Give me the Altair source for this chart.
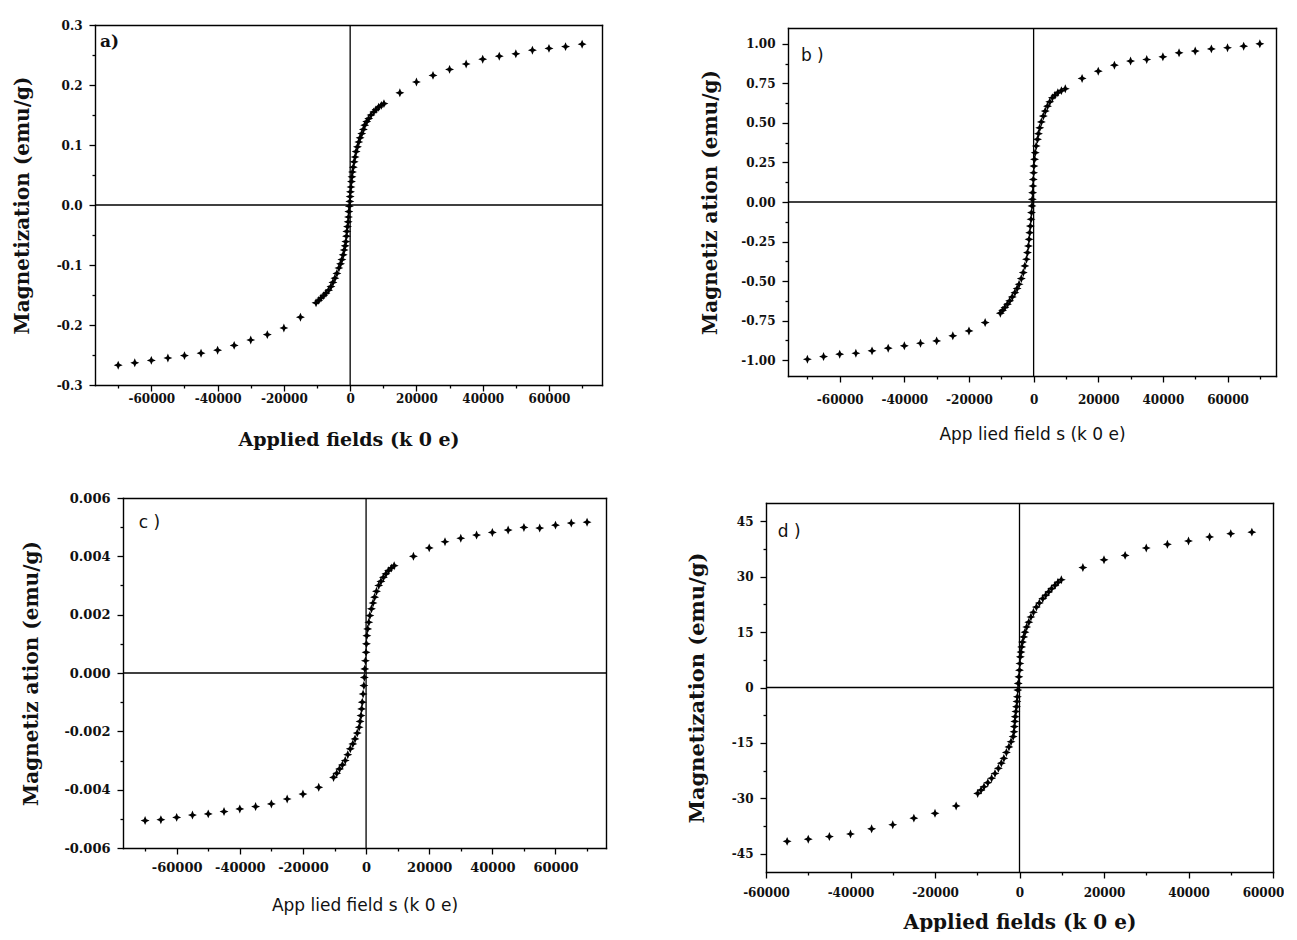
import altair as alt
import pandas as pd

STAR = "M0,-1 L0.3,-0.3 L1,0 L0.3,0.3 L0,1 L-0.3,0.3 L-1,0 L-0.3,-0.3 Z"

# ---------------- panel a ----------------
a_field = [-70000, -65000, -60000, -55000, -50000, -45000, -40000, -35000, -30000, -25000, -20000, -15000,
           -10300, -9500, -8800, -8000, -7300, -6500, -5800, -5200, -4600, -4000,
           -3400, -2900, -2500, -2100, -1800, -1500, -1300, -1100, -1000, -800,
           -600, -500, -400, -250, -100, 0, 100, 250, 400, 550,
           700, 950, 1200, 1500, 1800, 2200, 2600, 3000, 3500, 4000,
           4400, 5000, 5600, 6300, 7100, 7800, 8600, 9400, 10200,
           15000, 20000, 25000, 30000, 35000, 40000, 45000, 50000, 55000, 60000, 65000, 70000]
a_mag = [-0.267, -0.263, -0.259, -0.255, -0.251, -0.247, -0.242, -0.234, -0.225, -0.216, -0.205, -0.187,
         -0.163, -0.159, -0.155, -0.151, -0.147, -0.142, -0.136, -0.129, -0.122, -0.114,
         -0.105, -0.098, -0.091, -0.083, -0.075, -0.068, -0.061, -0.052, -0.044, -0.036,
         -0.028, -0.020, -0.011, -0.002, 0.006, 0.014, 0.022, 0.030, 0.039, 0.047,
         0.055, 0.063, 0.072, 0.080, 0.089, 0.097, 0.105, 0.112, 0.119, 0.126,
         0.133, 0.139, 0.144, 0.150, 0.155, 0.159, 0.163, 0.166, 0.169,
         0.187, 0.205, 0.216, 0.226, 0.235, 0.243, 0.248, 0.252, 0.258, 0.261, 0.264, 0.268]

# ---------------- panel b ----------------
b_field = [-70000, -65000, -60000, -55000, -50000, -45000, -40000, -35000, -30000, -25000, -20000, -15000,
           -10300, -9600, -8900, -8100, -7400, -6600, -5800, -5100, -4500, -3800,
           -3200, -2700, -2200, -1900, -1600, -1400, -1200, -1000, -800, -650,
           -500, -400, -300, -200, -100, 0, 100, 300, 500, 800,
           1200, 1500, 1900, 2400, 3000, 3600, 4300, 5000, 5800, 6600,
           7500, 8600, 9800,
           15000, 20000, 25000, 30000, 35000, 40000, 45000, 50000, 55000, 60000, 65000, 70000]
b_mag = [-0.994, -0.977, -0.962, -0.956, -0.941, -0.924, -0.909, -0.893, -0.878, -0.846, -0.815, -0.762,
         -0.703, -0.685, -0.667, -0.646, -0.625, -0.600, -0.573, -0.547, -0.520, -0.484,
         -0.446, -0.404, -0.362, -0.320, -0.278, -0.236, -0.194, -0.152, -0.109, -0.067,
         -0.025, 0.017, 0.059, 0.101, 0.143, 0.185, 0.227, 0.270, 0.312, 0.354,
         0.396, 0.432, 0.469, 0.506, 0.543, 0.575, 0.606, 0.633, 0.659, 0.675,
         0.691, 0.704, 0.716,
         0.781, 0.827, 0.865, 0.891, 0.901, 0.918, 0.943, 0.954, 0.968, 0.975, 0.985, 1.000]

# ---------------- panel c ----------------
c_field = [-70000, -65000, -60000, -55000, -50000, -45000, -40000, -35000, -30000, -25000, -20000, -15000,
           -10300, -9300, -8400, -7500, -6600, -5800, -5000, -4200, -3500, -2800,
           -2200, -1900, -1600, -1400, -1200, -950, -700, -550, -400, -200,
           0, 120, 250, 500, 870, 1200, 1700, 2200, 2700, 3300,
           4000, 4700, 5500, 6300, 7100, 8000, 8900,
           15000, 20000, 25000, 30000, 35000, 40000, 45000, 50000, 55000, 60000, 65000, 70000]
c_mag = [-0.00506, -0.00503, -0.00495, -0.00487, -0.00483, -0.00475, -0.00466, -0.00458, -0.00449, -0.00432, -0.00415, -0.00392,
         -0.00358, -0.00344, -0.00329, -0.00315, -0.00300, -0.00280, -0.00260, -0.00243, -0.00226, -0.00206,
         -0.00186, -0.00166, -0.00146, -0.00123, -0.00100, -0.00072, -0.00043, -0.00015, 0.00014, 0.00042,
         0.00071, 0.00100, 0.00128, 0.00151, 0.00174, 0.00197, 0.00220, 0.00240, 0.00260, 0.00280,
         0.00300, 0.00314, 0.00328, 0.00340, 0.00351, 0.00360, 0.00368,
         0.00400, 0.00429, 0.00450, 0.00462, 0.00473, 0.00482, 0.00490, 0.00499, 0.00497, 0.00507, 0.00514, 0.00517]

# ---------------- panel d ----------------
d_field = [-55000, -50000, -45000, -40000, -35000, -30000, -25000, -20000, -15000,
           -9900, -9100, -8400, -7500, -6600, -5800, -5000, -4300, -3700, -3100,
           -2500, -2000, -1500, -1300, -1200, -1100, -1000, -850, -700, -600,
           -500, -400, -300, -150, 0, 100, 200, 350, 500, 700,
           1000, 1300, 1700, 2200, 2700, 3300, 4000, 4700, 5500, 6200,
           6900, 7600, 8400, 9100, 9900,
           15000, 20000, 25000, 30000, 35000, 40000, 45000, 50000, 55000]
d_mag = [-41.7, -41.1, -40.4, -39.7, -38.3, -37.2, -35.4, -34.1, -32.1,
         -28.7, -27.8, -26.9, -25.8, -24.6, -23.3, -21.9, -20.5, -19.2, -17.6,
         -16.1, -14.7, -13.3, -12.0, -10.6, -9.2, -7.9, -6.5, -5.2, -3.8,
         -2.5, -0.7, 1.1, 2.9, 4.7, 6.5, 8.3, 9.6, 11.0, 12.3,
         13.7, 15.0, 16.4, 17.7, 19.1, 20.4, 21.8, 22.9, 24.1, 25.0,
         25.9, 26.8, 27.7, 28.5, 29.2,
         32.5, 34.6, 35.8, 37.8, 38.8, 39.7, 40.8, 41.7, 42.1]

# tick values
x_major_wide = [-60000, -40000, -20000, 0, 20000, 40000, 60000]
x_minor_wide = [-70000, -50000, -30000, -10000, 10000, 30000, 50000, 70000]
x_major_d = [-60000, -40000, -20000, 0, 20000, 40000, 60000]
x_minor_d = [-50000, -30000, -10000, 10000, 30000, 50000]
a_ymajor = [-0.3, -0.2, -0.1, 0.0, 0.1, 0.2, 0.3]
a_yminor = [-0.25, -0.15, -0.05, 0.05, 0.15, 0.25]
b_ymajor = [-1.0, -0.75, -0.5, -0.25, 0.0, 0.25, 0.5, 0.75, 1.0]
b_yminor = [-0.875, -0.625, -0.375, -0.125, 0.125, 0.375, 0.625, 0.875]
c_ymajor = [-0.006, -0.004, -0.002, 0.0, 0.002, 0.004, 0.006]
c_yminor = [-0.005, -0.003, -0.001, 0.001, 0.003, 0.005]
d_ymajor = [-45, -30, -15, 0, 15, 30, 45]
d_yminor = [-37.5, -22.5, -7.5, 7.5, 22.5, 37.5]

SERIF = "DejaVu Serif"
SANS = "DejaVu Sans"
HYPHEN = "replace(datum.label, '\u2212', '-')"
LW = 1.4


def panel(field, mag, xdom, ydom, xmaj, xmin, ymaj, ymin, yfmt,
          xtitle, ytitle, tag, tag_x, tag_y, width, height, inset_left, inset_top,
          label_size, xt_font, xt_size, xt_weight, yt_size, tag_font, tag_weight,
          ytitle_pad, xtitle_pad, xlabel_pad, last_shift=0):
    df = pd.DataFrame({"H": field, "M": mag})
    xs = alt.Scale(domain=xdom, nice=False, zero=False, range=[inset_left, width])
    ys = alt.Scale(domain=ydom, nice=False, zero=False, range=[height, inset_top])
    base = alt.Chart(df)
    common = dict(tickColor="black", grid=False, domainColor="black", domainWidth=LW,
                  domainCap="square", tickWidth=1.3)
    lab = dict(labelFont=SERIF, labelFontWeight="bold", labelFontSize=label_size,
               labelColor="#111", labelExpr=HYPHEN, tickSize=6, labelFlush=False, **common)
    xextra = {}
    if last_shift:
        xextra["labelOffset"] = {"condition": {"test": "datum.value >= %d" % xmaj[-1],
                                               "value": last_shift}, "value": 0}
    pts = base.mark_point(shape=STAR, filled=True, color="black", size=80, opacity=1,
                          strokeWidth=0).encode(
        x=alt.X("H:Q", scale=xs,
                axis=alt.Axis(values=xmaj, format="d", orient="bottom", title=xtitle,
                              titleFont=xt_font, titleFontSize=xt_size, titleFontWeight=xt_weight,
                              titleColor="#111", titlePadding=xtitle_pad, domain=True,
                              labelPadding=xlabel_pad, **xextra, **lab)),
        y=alt.Y("M:Q", scale=ys,
                axis=alt.Axis(values=ymaj, format=yfmt, orient="left", title=ytitle,
                              titleFont=SERIF, titleFontSize=yt_size, titleFontWeight="bold",
                              titleColor="#111", titlePadding=ytitle_pad, domain=True,
                              offset=-inset_left, labelPadding=7, **lab)),
    )
    minor = base.mark_point(opacity=0).encode(
        x=alt.X("H:Q", scale=xs,
                axis=alt.Axis(values=xmin, orient="bottom", labels=False, title=None,
                              tickSize=3, domain=False, **common)),
        y=alt.Y("M:Q", scale=ys,
                axis=alt.Axis(values=ymin, orient="left", labels=False, title=None,
                              tickSize=3, domain=False, offset=-inset_left, **common)),
    )
    frame = base.mark_point(opacity=0).encode(
        x=alt.X("H:Q", scale=xs,
                axis=alt.Axis(orient="top", labels=False, ticks=False, title=None,
                              domain=True, offset=-inset_top, **common)),
        y=alt.Y("M:Q", scale=ys,
                axis=alt.Axis(orient="right", labels=False, ticks=False, title=None,
                              domain=True, **common)),
    )
    one = pd.DataFrame({"z": [0]})
    hline = alt.Chart(one).mark_rule(color="black", strokeWidth=1.3).encode(
        x=alt.XDatum(xdom[0], axis=None), x2=alt.X2Datum(xdom[1]),
        y=alt.YDatum(0, axis=None))
    vline = alt.Chart(one).mark_rule(color="black", strokeWidth=1.3).encode(
        y=alt.YDatum(ydom[0], axis=None), y2=alt.Y2Datum(ydom[1]),
        x=alt.XDatum(0, axis=None))
    label = alt.Chart(one).mark_text(align="left", baseline="middle", font=tag_font,
                                     fontWeight=tag_weight, fontSize=17, color="#111").encode(
        x=alt.XDatum(tag_x, axis=None), y=alt.YDatum(tag_y, axis=None), text=alt.value(tag))
    layer = alt.layer(hline, vline, frame, minor, pts, label).resolve_axis(
        x="independent", y="independent")
    return layer.properties(width=width, height=height)


pa = panel(a_field, a_mag, [-77000, 76000], [-0.3, 0.3], x_major_wide, x_minor_wide,
           a_ymajor, a_yminor, ".1f", "Applied fields (k 0 e)", "Magnetization (emu/g)",
           "a)", -75500, 0.272, 507, 360, 0, 0, 12, SERIF, 19, "bold", 20, SERIF, "bold",
           24, 26, 2)
pb = panel(b_field, b_mag, [-76000, 75000], [-1.1, 1.1], x_major_wide, x_minor_wide,
           b_ymajor, b_yminor, ".2f", "App lied field s (k 0 e)", "Magnetiz ation (emu/g)",
           "b )", -72000, 0.92, 510, 351, 22, 3, 12, SANS, 17, "normal", 20, SANS, "normal",
           20, 21, 12)
pc = panel(c_field, c_mag, [-77000, 76000], [-0.006, 0.006], x_major_wide, x_minor_wide,
           c_ymajor, c_yminor, ".3f", "App lied field s (k 0 e)", "Magnetiz ation (emu/g)",
           "c )", -72000, 0.00514, 511, 350, 28, 0, 13, SANS, 17, "normal", 20, SANS, "normal",
           22, 23, 7)
pd_ = panel(d_field, d_mag, [-60000, 60000], [-50, 50], x_major_d, x_minor_d,
            d_ymajor, d_yminor, "d", "Applied fields (k 0 e)", "Magnetization (emu/g)",
            "d )", -57200, 42.1, 507, 374, 0, 5, 12, SERIF, 20, "bold", 21, SANS, "normal",
            24, 14, 9, last_shift=-10)

chart = alt.concat(pa, pb, pc, pd_, columns=2, align="each",
                   spacing={"row": 43, "column": 79}).properties(
    padding={"left": 4, "top": 11, "right": 0, "bottom": 0},
    background="white",
).configure_view(stroke=None)

chart.save("out.html", embed_options={"renderer": "svg", "actions": False})
